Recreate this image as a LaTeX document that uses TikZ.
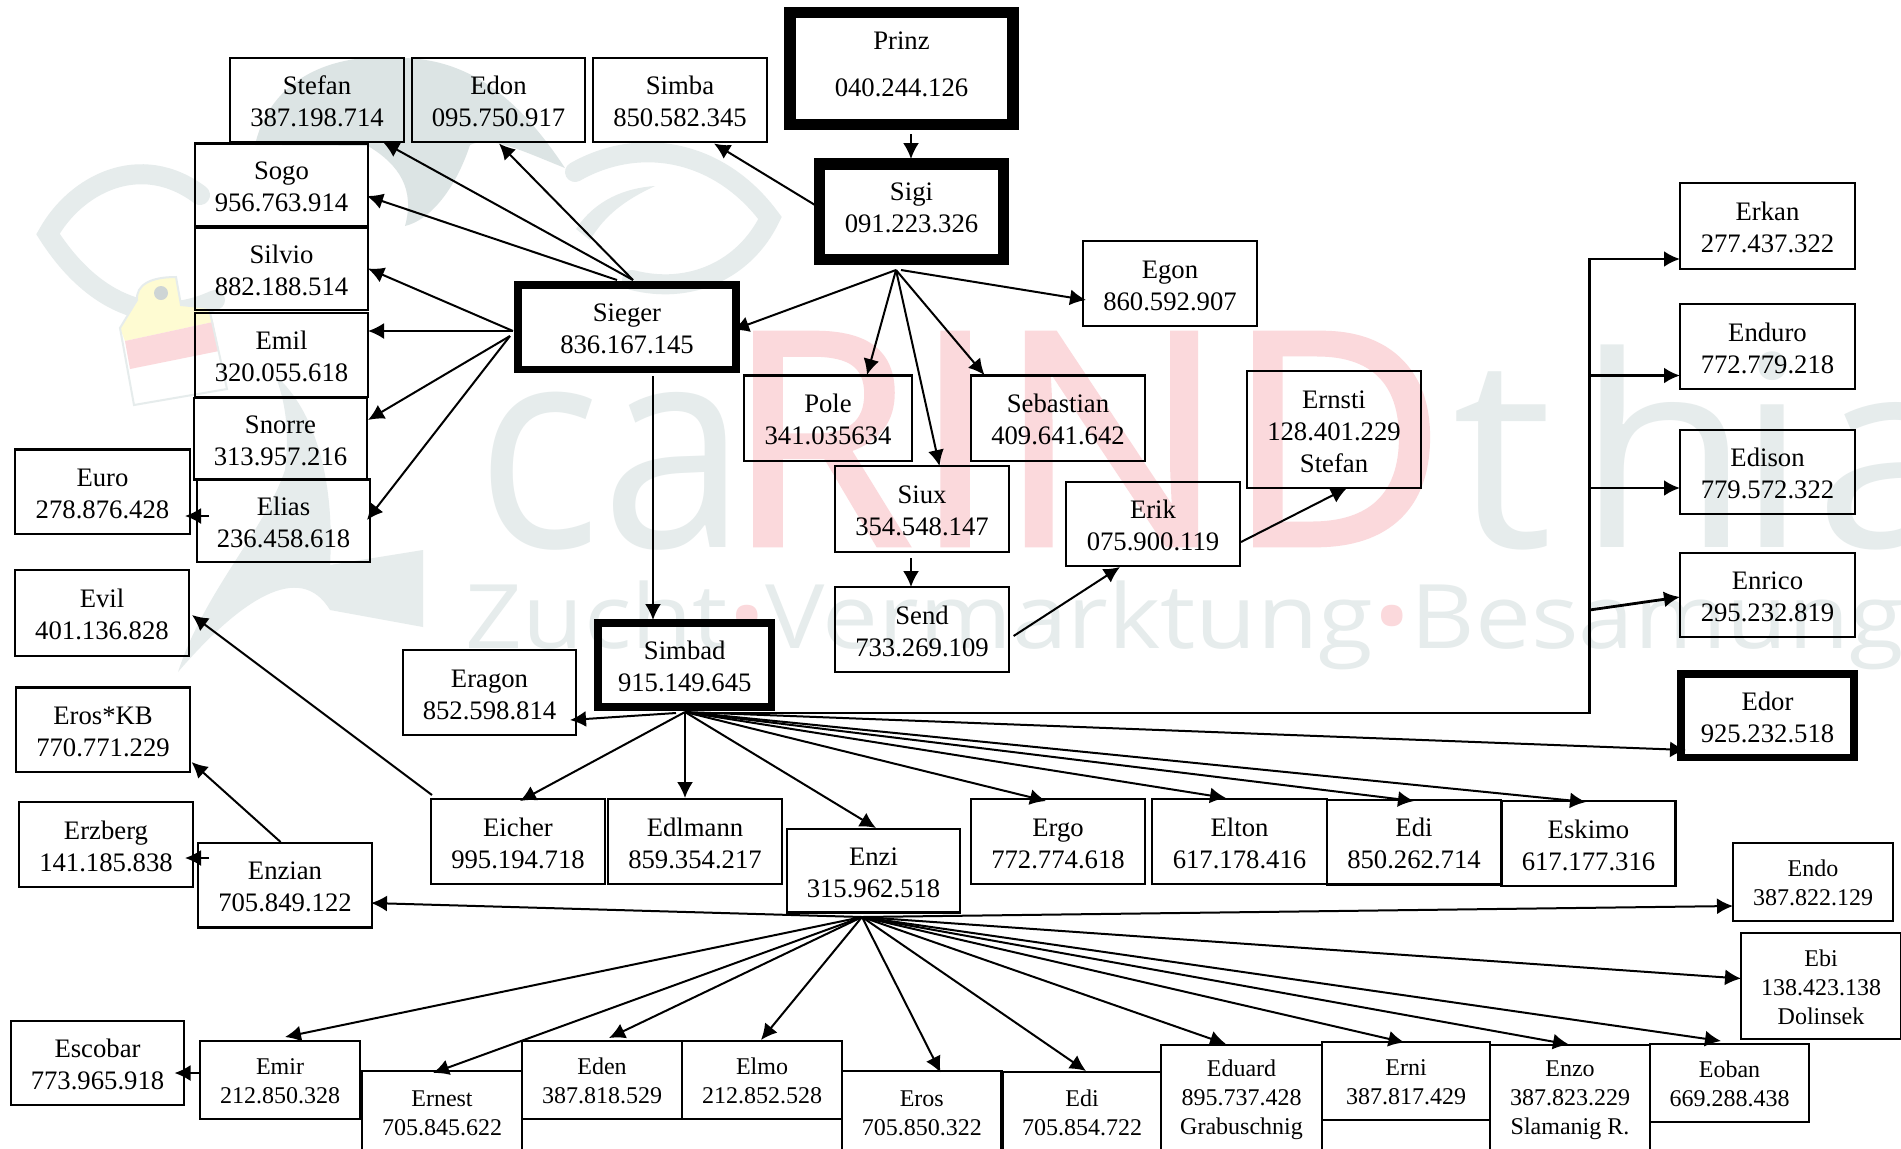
\documentclass[tikz,border=0pt]{standalone}
\usepackage{fontspec}
\setmainfont{Liberation Serif}
\newfontfamily\wmfont{Open Sans}
\newfontfamily\wmboldfont[FakeBold=1.5]{Open Sans}
\usetikzlibrary{arrows.meta}
\definecolor{wmgrey}{HTML}{E6ECEC}
\definecolor{wmdark}{HTML}{DCE4E4}
\definecolor{wmpink}{HTML}{FBD9DC}
\definecolor{wmyellow}{HTML}{FEFBD2}
\tikzset{
  bxs/.style={draw=black,line width=1.05pt,rectangle,inner sep=0pt,outer sep=0pt,align=center,
    font=\fontsize{13.35}{16}\selectfont},
  small/.style={font=\fontsize{12}{14.5}\selectfont},
  heavy/.style={line width=5.6pt},
  heavier/.style={line width=3.8pt},
  con/.style={draw=black,line width=1pt,-{Latex[length=8pt,width=8pt]}},
  busarr/.style={draw=black,line width=1.4pt,-{Latex[length=8pt,width=8pt]}},
  wmband/.style={draw=wmgrey,line width=10pt,line cap=round,fill=none},
}
\newcommand{\bx}[7][]{%
  \pgfmathsetlengthmacro\bw{(#5-#3)*0.5pt}%
  \pgfmathsetlengthmacro\bh{(#6-#4)*0.5pt}%
  \node[bxs,#1,minimum width=\bw,minimum height=\bh] (#2) at ({(#3+#5)/2},{(#4+#6)/2}) {\rule{0pt}{.8em}#7};}
\newcommand{\lift}{\rule[-6.4pt]{0pt}{0pt}}
\begin{document}
\begin{tikzpicture}[x=0.5pt,y=-0.5pt]
\path[use as bounding box,clip] (0,0) rectangle (1901,1148);
\fill[white] (0,0) rectangle (1901,1148);
% watermark
\draw[wmband] (215,300) .. controls (150,330) and (90,300) .. (48,234) .. controls (75,185) and (140,150) .. (200,195);
\draw[wmband] (575,172) .. controls (640,135) and (720,150) .. (770,218) .. controls (745,270) and (690,295) .. (632,280);
\fill[wmdark] (255,145) .. controls (270,80) and (330,52) .. (400,58) .. controls (470,58) and (520,100) .. (565,168)
  .. controls (520,150) and (490,135) .. (470,145) .. controls (455,190) and (430,220) .. (405,226)
  .. controls (415,190) and (400,165) .. (368,146) -- cycle;
\fill[wmgrey] (576,229) .. controls (595,200) and (625,188) .. (655,186) .. controls (625,200) and (605,215) .. (590,240) -- cycle;
\fill[wmgrey] (178,672) .. controls (205,590) and (265,530) .. (285,470) .. controls (290,430) and (285,400) .. (275,375)
  .. controls (315,410) and (335,480) .. (330,565) -- (423,550) -- (423,627) -- (330,610) .. controls (300,560) and (240,600) .. cycle;
\fill[wmyellow] (120,328) -- (137,300) .. controls (136,285) and (150,277) .. (176,277) -- (181,305) -- (209,308) -- (213,322) -- (125,341) -- cycle;
\fill[wmpink] (125,341) -- (213,322) -- (219,351) -- (130,369) -- cycle;
\draw[wmgrey,line width=1pt] (120,328) -- (137,300) .. controls (136,285) and (150,277) .. (176,277) -- (181,305) -- (209,308) -- (227,389) -- (134,405) -- cycle;
\fill[wmdark!85!gray] (161,293) circle (7);
\node[inner sep=0pt,text=wmgrey] (wmca) at (612,471) {\resizebox*{135pt}{79pt}{\wmfont ca}};
\node[inner sep=0pt,text=wmpink] (wmrind) at (1086,439) {\resizebox*{360pt}{106pt}{\wmboldfont RIND}};
\node[inner sep=0pt,text=wmgrey] (wmthia) at (1713,447) {\resizebox*{260pt}{102.5pt}{\wmfont t\kern.08em h\kern-.05em i\kern.02em a}};
\node[inner sep=0pt,text=wmgrey] (wmzucht) at (1185,625.5) {\resizebox*{719pt}{44.5pt}{\wmfont Zucht\textcolor{wmpink}{•}Vermarktung\textcolor{wmpink}{•}Besamung}};
% boxes
\bx{stefan}{230}{58}{404}{142}{Stefan\\387.198.714}
\bx{edon}{412}{58}{585}{142}{Edon\\095.750.917}
\bx{simba}{593}{58}{767}{142}{Simba\\850.582.345}
\bx[heavy,font=\fontsize{13.35}{23.6}\selectfont]{prinz}{790}{12.5}{1013}{124.5}{Prinz\\040.244.126\lift}
\bx[heavy]{sigi}{819.5}{164}{1003.5}{259.5}{Sigi\\091.223.326\lift}
\bx{sogo}{195}{143.5}{368}{226}{Sogo\\956.763.914}
\bx{silvio}{195}{228}{368}{310}{Silvio\\882.188.514}
\bx{emil}{195}{313}{368}{397}{Emil\\320.055.618}
\bx{snorre}{194}{398}{367}{479.5}{Snorre\\313.957.216}
\bx{elias}{197}{479.5}{370}{562}{Elias\\236.458.618}
\bx{euro}{15}{449.5}{190}{534}{Euro\\278.876.428}
\bx[heavier]{sieger}{518}{285}{736}{369.5}{Sieger\\836.167.145}
\bx{pole}{744}{375.5}{912}{461}{Pole\\341.035634}
\bx{siux}{835}{466}{1009}{552}{Siux\\354.548.147}
\bx{egon}{1083}{241}{1257}{326}{Egon\\860.592.907}
\bx{sebastian}{971}{375.5}{1145}{461}{Sebastian\\409.641.642}
\bx{ernsti}{1247}{371}{1421}{488}{Ernsti\\128.401.229\\Stefan}
\bx{erik}{1066}{482}{1240}{566}{Erik\\075.900.119}
\bx{erkan}{1680}{183}{1855}{269}{Erkan\\277.437.322}
\bx{enduro}{1680}{304}{1855}{389}{Enduro\\772.779.218}
\bx{edison}{1680}{430}{1855}{514}{Edison\\779.572.322}
\bx{enrico}{1680}{553}{1855}{637}{Enrico\\295.232.819}
\bx[heavier]{edor}{1681}{674}{1854}{757.5}{Edor\\925.232.518}
\bx{evil}{15}{570}{189}{656}{Evil\\401.136.828}
\bx{eroskb}{16}{687.5}{190}{772}{Eros*KB\\770.771.229}
\bx{erzberg}{19}{802}{193}{887}{Erzberg\\141.185.838}
\bx{enzian}{198}{843}{372}{927.5}{Enzian\\705.849.122}
\bx{eragon}{403}{650}{576}{735}{Eragon\\852.598.814}
\bx[heavier]{simbad}{598}{623}{771.5}{707}{Simbad\\915.149.645}
\bx{send}{835}{587}{1009}{672}{Send\\733.269.109}
\bx{eicher}{431}{799}{605}{884}{Eicher\\995.194.718}
\bx{edlmann}{608}{799}{782}{884}{Edlmann\\859.354.217}
\bx{enzi}{787}{829}{960}{912.5}{Enzi\\315.962.518}
\bx{ergo}{971}{799}{1145}{884}{Ergo\\772.774.618}
\bx{elton}{1152}{799}{1327}{884}{Elton\\617.178.416}
\bx{edi}{1327}{800}{1501}{884.5}{Edi\\850.262.714}
\bx{eskimo}{1501.5}{801}{1675.5}{886}{Eskimo\\617.177.316}
\bx[small]{endo}{1733}{843}{1893}{921}{Endo\\387.822.129}
\bx[small]{ebi}{1741}{933}{1901}{1039}{Ebi\\138.423.138\\Dolinsek}
\bx{escobar}{11}{1021}{184}{1105}{Escobar\\773.965.918}
\bx[small]{emir}{200}{1041}{360}{1119}{Emir\\212.850.328}
\bx[small]{ernest}{362}{1071}{522}{1152}{Ernest\\705.845.622}
\bx[small]{eden}{522}{1041}{682}{1119}{Eden\\387.818.529}
\bx[small]{elmo}{682}{1041}{842}{1119}{Elmo\\212.852.528}
\bx[small]{eros}{842}{1071}{1001.5}{1152}{Eros\\705.850.322}
\bx[small]{edib}{1003}{1072}{1161}{1152}{Edi\\705.854.722}
\bx[small]{eduard}{1161}{1045}{1322}{1152}{Eduard\\895.737.428\\Grabuschnig}
\bx[small]{erni}{1322}{1042}{1490}{1120}{Erni\\387.817.429}
\bx{ernilow}{1322}{1120}{1490}{1152}{}
\bx[small]{enzo}{1490}{1045}{1650}{1152}{Enzo\\387.823.229\\Slamanig R.}
\bx[small]{eoban}{1650}{1044}{1809}{1122}{Eoban\\669.288.438}
% bus corners
\coordinate (busA) at (1589.5,713);
\coordinate (busTop) at (1589.5,259);
\coordinate (busB) at (1589.5,375.5);
\coordinate (busC) at (1589.5,488);
\coordinate (busD) at (1589.5,610);
% Sieger fan
\draw[con] ([shift={(6,-47.25)}]sieger.center) -- ([shift={(66,42)}]stefan.center);
\draw[con] ([shift={(6,-47.25)}]sieger.center) -- ([shift={(0.5,43.5)}]edon.center);
\draw[con] ([shift={(-10,-47.25)}]sieger.center) -- ([shift={(85.5,11.25)}]sogo.center);
\draw[con] ([shift={(-114,3.75)}]sieger.center) -- ([shift={(86.5,-0.5)}]silvio.center);
\draw[con] ([shift={(-114,3.75)}]sieger.center) -- ([shift={(86.5,-24)}]emil.center);
\draw[con] ([shift={(-117,8.75)}]sieger.center) -- ([shift={(87.5,-18.75)}]snorre.center);
\draw[con] ([shift={(-117,8.75)}]sieger.center) -- ([shift={(83.5,-0.75)}]elias.center);
\draw[con] ([shift={(-74.5,-4.75)}]elias.center) -- ([shift={(82.5,24.25)}]euro.center);
% Sigi
\draw[con] ([shift={(-96.5,-6.75)}]sigi.center) -- ([shift={(34,43.5)}]simba.center);
\draw[con] ([shift={(9.5,65.5)}]prinz.center) -- ([shift={(-0.5,-52.75)}]sigi.center);
\draw[con] ([shift={(-15.5,58.25)}]sigi.center) -- ([shift={(106,2.75)}]sieger.center);
\draw[con] ([shift={(-15.5,58.25)}]sigi.center) -- ([shift={(39,-43.25)}]pole.center);
\draw[con] ([shift={(-15.5,58.25)}]sigi.center) -- ([shift={(17.5,-43)}]siux.center);
\draw[con] ([shift={(-15.5,58.25)}]sigi.center) -- ([shift={(-73.5,-43.25)}]sebastian.center);
\draw[con] ([shift={(-10.5,58.25)}]sigi.center) -- ([shift={(-84,16.5)}]egon.center);
\draw[con] ([shift={(-11,49)}]siux.center) -- ([shift={(-11,-42.5)}]send.center);
\draw[con] ([shift={(91.6,6.5)}]send.center) -- ([shift={(-33,43)}]erik.center);
\draw[con] ([shift={(88,18)}]erik.center) -- ([shift={(13,58.5)}]ernsti.center);
\draw[con] ([shift={(26,48.75)}]sieger.center) -- ([shift={(-31.75,-45)}]simbad.center);
% Simbad fan
\draw[con] ([shift={(-8.75,48)}]simbad.center) -- ([shift={(80.5,27.5)}]eragon.center);
\draw[con] ([shift={(0.25,47)}]simbad.center) -- ([shift={(2,-40.5)}]eicher.center);
\draw[con] ([shift={(0.25,47)}]simbad.center) -- ([shift={(-10,-43.5)}]edlmann.center);
\draw[con] ([shift={(0.25,47)}]simbad.center) -- ([shift={(2.5,-42.75)}]enzi.center);
\draw[con] ([shift={(0.25,47)}]simbad.center) -- ([shift={(-81.5,34.25)}]edor.center);
\draw[con] ([shift={(0.25,47)}]simbad.center) -- ([shift={(-12,-40.5)}]ergo.center);
\draw[con] ([shift={(0.25,47)}]simbad.center) -- ([shift={(-13.5,-43.5)}]elton.center);
\draw[con] ([shift={(0.25,47)}]simbad.center) -- ([shift={(0,-41.25)}]edi.center);
\draw[con] ([shift={(0.25,47)}]simbad.center) -- ([shift={(-2.5,-41.5)}]eskimo.center);
% bus
\draw[busarr] ([shift={(18.25,48)}]simbad.center) -- (busA) -- (busTop) -- ([shift={(-87.5,33)}]erkan.center);
\draw[busarr] (busB) -- ([shift={(-87.5,29)}]enduro.center);
\draw[busarr] (busC) -- ([shift={(-87.5,16)}]edison.center);
\draw[busarr] (busD) -- ([shift={(-87.5,2)}]enrico.center);
% left side
\draw[con] ([shift={(-86,-46.5)}]eicher.center) -- ([shift={(90,2)}]evil.center);
\draw[con] ([shift={(-4.4,-43.25)}]enzian.center) -- ([shift={(88.5,32.25)}]eroskb.center);
\draw[con] ([shift={(-76,-27.25)}]enzian.center) -- ([shift={(79,13.5)}]erzberg.center);
\draw[con] ([shift={(-80,-7)}]emir.center) -- ([shift={(77,10)}]escobar.center);
% Enzi fan
\draw[con] ([shift={(-11.5,46.25)}]enzi.center) -- ([shift={(86,17.75)}]enzian.center);
\draw[con] ([shift={(-11.5,46.25)}]enzi.center) -- ([shift={(-80,24)}]endo.center);
\draw[con] ([shift={(-11.5,46.25)}]enzi.center) -- ([shift={(-80,-7.5)}]ebi.center);
\draw[con] ([shift={(-11.5,46.25)}]enzi.center) -- ([shift={(5,-43)}]emir.center);
\draw[con] ([shift={(-11.5,46.25)}]enzi.center) -- ([shift={(-9,-38.5)}]ernest.center);
\draw[con] ([shift={(-11.5,46.25)}]enzi.center) -- ([shift={(7,-42)}]eden.center);
\draw[con] ([shift={(-11.5,46.25)}]enzi.center) -- ([shift={(-1,-40)}]elmo.center);
\draw[con] ([shift={(-11.5,46.25)}]enzi.center) -- ([shift={(18.85,-39)}]eros.center);
\draw[con] ([shift={(-11.5,46.25)}]enzi.center) -- ([shift={(4,-41)}]edib.center);
\draw[con] ([shift={(-11.5,46.25)}]enzi.center) -- ([shift={(-15.5,-54.5)}]eduard.center);
\draw[con] ([shift={(-11.5,46.25)}]enzi.center) -- ([shift={(-1.5,-38.5)}]erni.center);
\draw[con] ([shift={(-11.5,46.25)}]enzi.center) -- ([shift={(-1,-54)}]enzo.center);
\draw[con] ([shift={(-11.5,46.25)}]enzi.center) -- ([shift={(-8.5,-42)}]eoban.center);
\end{tikzpicture}
\end{document}
